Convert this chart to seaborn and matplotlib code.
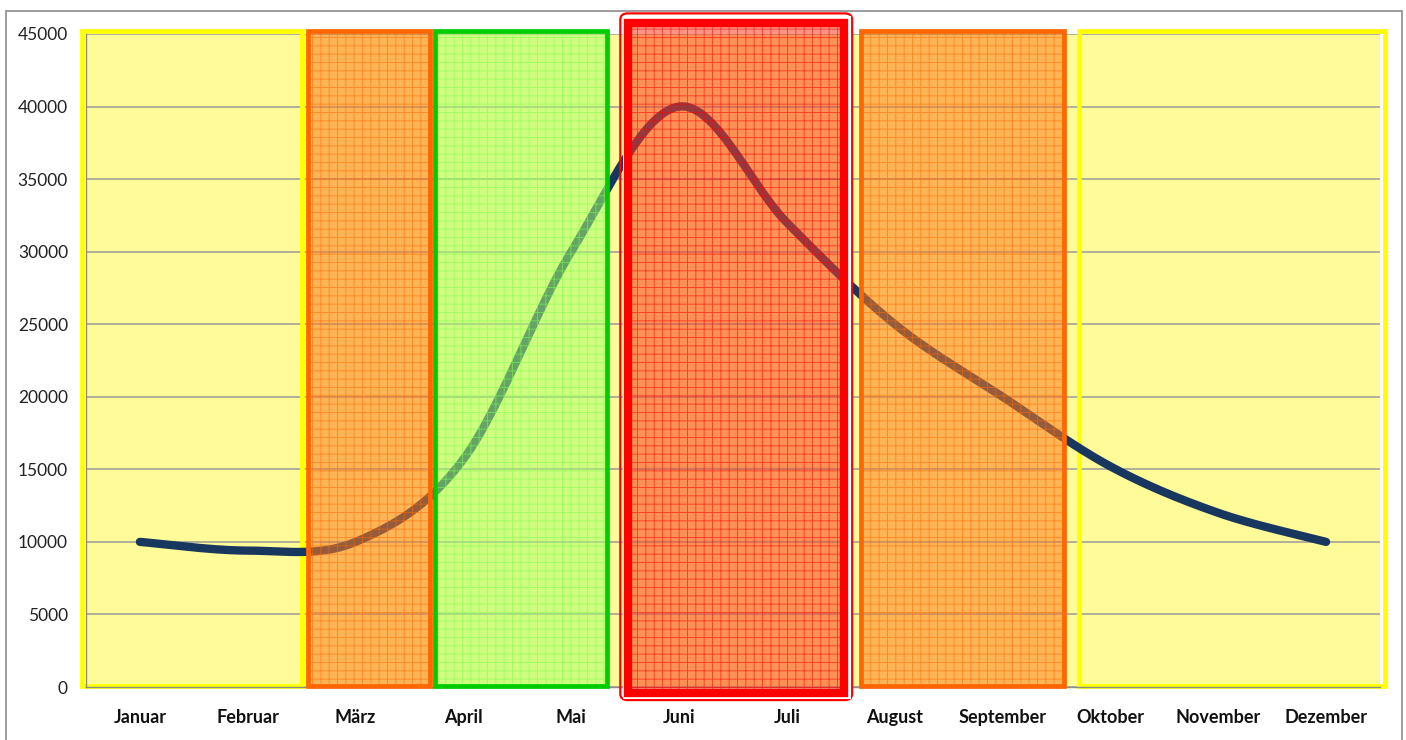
import numpy as np
import pandas as pd
import seaborn as sns
from matplotlib import pyplot as plt
from matplotlib.patches import Rectangle, FancyBboxPatch
from matplotlib.ticker import FixedLocator

# data
months = ['Januar', 'Februar', 'März', 'April', 'Mai', 'Juni', 'Juli',
          'August', 'September', 'Oktober', 'November', 'Dezember']
values = [10000, 9400, 10000, 15700, 30000, 40000, 32000,
          25000, 20000, 15200, 12000, 10000]
y_ticks = list(range(0, 45001, 5000))

# season bands (first month, last month) and their colours
band_months = [(0, 1), (2, 2), (3, 4), (5, 6), (7, 8), (9, 11)]
band_edge = ['#FFFF00', '#FF6600', '#00CC00', '#FF0000', '#FF6600', '#FFFF00']
band_face = [None, '#FF7A1F', '#A8FF6C', '#FF3A22', '#FF7A1F', None]
band_hatch = [None, '#FF6A00', '#7CFF50', '#FF0000', '#FF6A00', None]
# hand placed shift of the drawn boxes (in month units) relative to cell edges
band_pad = [(-0.04, 0.0), (0.06, 0.19), (0.24, -0.17), (0.03, 0.03), (0.19, 0.07), (0.21, 0.05)]


def smooth(xv, yv, n=40):
    # excel-like smoothed line (catmull-rom bezier)
    xs, ys = [], []
    m = len(yv)
    for i in range(m - 1):
        a = max(i - 1, 0)
        d = min(i + 2, m - 1)
        cx1 = xv[i] + (xv[i + 1] - xv[a]) / 6
        cy1 = yv[i] + (yv[i + 1] - yv[a]) / 6
        cx2 = xv[i + 1] - (xv[d] - xv[i]) / 6
        cy2 = yv[i + 1] - (yv[d] - yv[i]) / 6
        t = np.linspace(0, 1, n, endpoint=(i == m - 2))
        b0, b1, b2, b3 = (1 - t) ** 3, 3 * t * (1 - t) ** 2, 3 * t ** 2 * (1 - t), t ** 3
        xs.extend(b0 * xv[i] + b1 * cx1 + b2 * cx2 + b3 * xv[i + 1])
        ys.extend(b0 * yv[i] + b1 * cy1 + b2 * cy2 + b3 * yv[i + 1])
    return np.array(xs), np.array(ys)


sns.set_style('white')
plt.rcParams['font.family'] = ['Lato', 'DejaVu Sans']
plt.rcParams['hatch.linewidth'] = 0.7

fig = plt.figure(figsize=(14.06, 7.40), dpi=100)
ax = fig.add_axes([86 / 1406, 53 / 740, 1294 / 1406, 653 / 740])
ax.set_facecolor('#FFFB99')

# outer chart frame
fig.patches.append(Rectangle((6 / 1406, -0.05), 1396 / 1406, 1.05 - 11 / 740,
                             transform=fig.transFigure, fill=False,
                             edgecolor='#8C8C8C', linewidth=1.2))

x_idx = np.arange(len(months))
sx, sy = smooth(x_idx.astype(float), np.array(values, dtype=float))
df = pd.DataFrame({'x': sx, 'y': sy})
sns.lineplot(data=df, x='x', y='y', sort=False, estimator=None, ax=ax,
             color='#17375E', linewidth=6.0, solid_capstyle='round', zorder=3)

# bands
ytop = 45200
ybot = 60
for (m0, m1), ec, fc, hc, (p0, p1) in zip(band_months, band_edge, band_face, band_hatch, band_pad):
    x0 = m0 - 0.5 + p0
    x1 = m1 + 0.5 + p1
    if ec == '#FF0000':
        # double framed box
        rt, rb = 45750, -420
        ax.add_patch(FancyBboxPatch((x0 - 0.075, rb - 480), x1 - x0 + 0.15, rt - rb + 1150,
                                    boxstyle='round,pad=0,rounding_size=0.07',
                                    mutation_aspect=6000, fill=False, edgecolor='#FF0000',
                                    linewidth=1.6, clip_on=False, zorder=4))
        ax.add_patch(Rectangle((x0 - 0.045, rb - 250), x1 - x0 + 0.09, rt - rb + 700,
                               fill=False, edgecolor='white', linewidth=2.2,
                               clip_on=False, zorder=4))
        ax.add_patch(Rectangle((x0, rb), x1 - x0, rt - rb, facecolor=fc, alpha=0.55,
                               hatch='++', edgecolor=hc, linewidth=0, clip_on=False, zorder=4))
        ax.add_patch(Rectangle((x0, rb), x1 - x0, rt - rb, fill=False, edgecolor=ec,
                               linewidth=6.0, joinstyle='miter', clip_on=False, zorder=5))
        continue
    if fc is None:
        ax.add_patch(Rectangle((x0, ybot), x1 - x0, ytop - ybot, fill=False, edgecolor=ec,
                               linewidth=3.4, clip_on=False, zorder=2))
    else:
        ax.add_patch(Rectangle((x0, ybot), x1 - x0, ytop - ybot, facecolor=fc, alpha=0.55,
                               hatch='++', edgecolor=hc, linewidth=0, clip_on=False, zorder=4))
        ax.add_patch(Rectangle((x0, ybot), x1 - x0, ytop - ybot, fill=False, edgecolor=ec,
                               linewidth=3.4, clip_on=False, zorder=5))

ax.set_xlim(-0.5, len(months) - 0.5)
ax.set_ylim(0, 45000)
ax.set_yticks(y_ticks)
ax.set_yticklabels([str(v) for v in y_ticks], fontsize=12.5, color='#222222')
ax.set_xticks(x_idx)
ax.set_xticklabels(months, fontsize=13, fontweight='bold', color='#111111')
ax.xaxis.set_minor_locator(FixedLocator(np.arange(-0.5, len(months), 1.0)))
ax.tick_params(axis='x', which='major', length=0, pad=16)
ax.tick_params(axis='x', which='minor', length=5, width=1, color='#8C8C8C', direction='out')
ax.tick_params(axis='y', length=0, pad=13)

ax.grid(axis='y', color='#9A9A9A', linewidth=1.1, zorder=0)
ax.grid(axis='x', visible=False)
ax.set_axisbelow(True)
for s in ['top', 'right']:
    ax.spines[s].set_visible(False)
for s in ['left', 'bottom']:
    ax.spines[s].set_color('#8C8C8C')
    ax.spines[s].set_linewidth(1.0)
ax.set_xlabel('')
ax.set_ylabel('')

plt.savefig('out.png', dpi=100)
